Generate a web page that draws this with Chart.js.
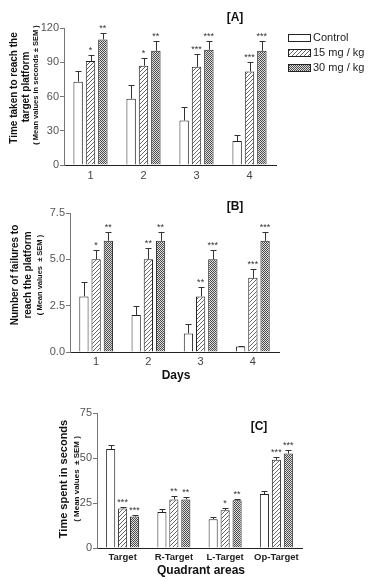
<!DOCTYPE html>
<html>
<head>
<meta charset="utf-8">
<script src="https://cdn.jsdelivr.net/npm/chart.js@4.4.1/dist/chart.umd.min.js"></script>
<style>
  html, body { margin: 0; padding: 0; background: #fff; }
  #wrap { position: relative; width: 375px; height: 581px; }
  canvas { position: absolute; left: 0; top: 0; pointer-events: none; }
</style>
</head>
<body>
<div id="wrap">
  <canvas id="chartA" width="375" height="581"></canvas>
  <canvas id="chartB" width="375" height="581"></canvas>
  <canvas id="chartC" width="375" height="581"></canvas>
</div>
<script>
// [A] time taken to reach the platform (seconds)
const daysA = ["1", "2", "3", "4"];
const controlA = [73, 58, 39, 21];
const controlErrA = [9, 12, 12, 5];
const mg15A = [91, 87, 86, 82];
const mg15ErrA = [5, 7, 11, 8];
const mg30A = [110, 100, 101, 100];
const mg30ErrA = [6, 9, 8, 9];
const stars15A = ["*", "*", "***", "***"];
const stars30A = ["**", "**", "***", "***"];
const ticksA = [0, 30, 60, 90, 120];

// [B] number of failures
const daysB = ["1", "2", "3", "4"];
const controlB = [3.0, 2.0, 1.0, 0.3];
const controlErrB = [0.8, 0.5, 0.5, 0.05];
const mg15B = [5.0, 5.0, 3.0, 4.0];
const mg15ErrB = [0.5, 0.6, 0.5, 0.5];
const mg30B = [6.0, 6.0, 5.0, 6.0];
const mg30ErrB = [0.5, 0.5, 0.5, 0.5];
const stars15B = ["*", "**", "**", "***"];
const stars30B = ["**", "**", "***", "***"];
const ticksB = [0, 2.5, 5, 7.5];

// [C] time spent in quadrants (seconds)
const quadrants = ["Target", "R-Target", "L-Target", "Op-Target"];
const controlC = [55, 20, 16, 30];
const controlErrC = [2.5, 1.5, 1, 1.5];
const mg15C = [22, 27, 21, 49];
const mg15ErrC = [1, 2, 1, 1.5];
const mg30C = [17.5, 27, 26.5, 52.5];
const mg30ErrC = [1, 1.2, 1, 2];
const stars15C = ["***", "**", "*", "***"];
const stars30C = ["***", "**", "**", "***"];
const ticksC = [0, 25, 50, 75];

const groupLabels = ["Control", "15 mg / kg", "30 mg / kg"];

Chart.defaults.font.family = "'Liberation Sans', Arial, sans-serif";
Chart.defaults.color = "#444";

function hatch(ctx) {
  const c = document.createElement("canvas");
  c.width = 4; c.height = 4;
  const g = c.getContext("2d");
  g.fillStyle = "#fff";
  g.fillRect(0, 0, 4, 4);
  g.strokeStyle = "#666";
  g.lineWidth = 1;
  g.beginPath();
  g.moveTo(0, 4); g.lineTo(4, 0);
  g.moveTo(-1, 1); g.lineTo(1, -1);
  g.moveTo(3, 5); g.lineTo(5, 3);
  g.stroke();
  return ctx.createPattern(c, "repeat");
}

function checker(ctx) {
  const c = document.createElement("canvas");
  c.width = 2; c.height = 2;
  const g = c.getContext("2d");
  g.fillStyle = "#e0e0e0";
  g.fillRect(0, 0, 2, 2);
  g.fillStyle = "#4a4a4a";
  g.fillRect(0, 0, 1, 1);
  g.fillRect(1, 1, 1, 1);
  return ctx.createPattern(c, "repeat");
}

// error bars, stars, titles, legend
const extras = {
  id: "extras",
  afterDatasetsDraw(chart) {
    const ctx = chart.ctx;
    const y = chart.scales.y;
    ctx.save();
    ctx.strokeStyle = "#333";
    ctx.fillStyle = "#333";
    ctx.lineWidth = 1;
    ctx.font = "9px 'Liberation Sans', Arial";
    ctx.textAlign = "center";
    chart.data.datasets.forEach(function (ds, i) {
      chart.getDatasetMeta(i).data.forEach(function (bar, j) {
        const top = Math.round(y.getPixelForValue(ds.data[j] + ds.errors[j])) + 0.5;
        const x = Math.round(bar.x) + 0.5;
        ctx.beginPath();
        ctx.moveTo(x, bar.y);
        ctx.lineTo(x, top);
        ctx.moveTo(x - 3, top);
        ctx.lineTo(x + 3, top);
        ctx.stroke();
        if (ds.stars[j]) ctx.fillText(ds.stars[j], bar.x, top - 3);
      });
    });
    ctx.restore();
  },
  afterDraw(chart, args, opts) {
    const ctx = chart.ctx;
    const area = chart.chartArea;
    ctx.save();
    ctx.fillStyle = "#111";
    ctx.textAlign = "center";
    ctx.textBaseline = "middle";
    opts.yTitle.forEach(function (line) {
      ctx.save();
      ctx.translate(line.x, line.y);
      ctx.rotate(-Math.PI / 2);
      ctx.font = line.font;
      ctx.fillText(line.text, 0, 0);
      ctx.restore();
    });
    ctx.font = "bold 12px 'Liberation Sans', Arial";
    ctx.fillText(opts.panel.text, opts.panel.x, opts.panel.y);
    if (opts.xTitle) {
      ctx.font = "bold 12px 'Liberation Sans', Arial";
      ctx.fillText(opts.xTitle.text, opts.xTitle.x, opts.xTitle.y);
    }
    if (opts.legend) {
      const lg = opts.legend;
      ctx.textAlign = "left";
      ctx.font = "11px 'Liberation Sans', Arial";
      chart.data.datasets.forEach(function (ds, i) {
        const yy = lg.y + i * lg.step;
        ctx.fillStyle = ds.backgroundColor;
        ctx.fillRect(lg.x, yy - 3.5, 22, 7);
        ctx.strokeStyle = "#222";
        ctx.strokeRect(lg.x + 0.5, yy - 3.5, 22, 7);
        ctx.fillStyle = "#222";
        ctx.fillText(ds.label, lg.x + 25, yy);
      });
    }
    ctx.restore();
  }
};

function makeChart(id, cats, series, errs, stars, yTicks, box, decorations, xFont, xPad) {
  const canvas = document.getElementById(id);
  const ctx = canvas.getContext("2d");
  const fills = ["#fff", hatch(ctx), checker(ctx)];
  const xH = 20;
  return new Chart(ctx, {
    type: "bar",
    data: {
      labels: cats,
      datasets: series.map(function (vals, i) {
        return {
          label: groupLabels[i],
          data: vals,
          errors: errs[i],
          stars: stars[i],
          backgroundColor: fills[i],
          borderColor: "#222",
          borderWidth: 1,
          categoryPercentage: 0.7,
          barPercentage: 0.76
        };
      })
    },
    options: {
      responsive: false,
      animation: false,
      layout: {
        padding: { left: 0, top: box.top, right: 375 - box.right, bottom: 581 - box.bottom - xH }
      },
      plugins: {
        legend: { display: false },
        tooltip: { enabled: false },
        extras: decorations
      },
      scales: {
        x: {
          afterFit: function (s) { s.height = xH; },
          grid: { display: false, drawTicks: false },
          border: { display: true, color: "#222", width: 1 },
          ticks: { font: xFont, color: xFont.weight ? "#222" : "#444", padding: xPad }
        },
        y: {
          min: yTicks[0],
          max: yTicks[yTicks.length - 1],
          afterFit: function (s) { s.width = box.left; },
          afterBuildTicks: function (s) { s.ticks = yTicks.map(function (v) { return { value: v }; }); },
          grid: { display: true, drawOnChartArea: false, drawTicks: true, tickLength: 4, color: "#777" },
          border: { display: true, color: "#777", width: 1 },
          ticks: {
            font: { size: 11 },
            color: "#555",
            padding: 1,
            callback: function (v) { return yTicks === ticksB ? v.toFixed(1) : v; }
          }
        }
      }
    },
    plugins: [extras]
  });
}

const big = "bold 10px 'Liberation Sans', Arial";
const small = "bold 7.5px 'Liberation Sans', Arial";

makeChart("chartA", daysA,
  [controlA, mg15A, mg30A], [controlErrA, mg15ErrA, mg30ErrA], [[], stars15A, stars30A],
  ticksA, { left: 64, right: 276, top: 28, bottom: 165 },
  {
    yTitle: [
      { text: "Time taken to reach the", x: 14, y: 88, font: big },
      { text: "target platform", x: 26, y: 87, font: big },
      { text: "( Mean values in seconds ± SEM )", x: 36, y: 85, font: small }
    ],
    panel: { text: "[A]", x: 235, y: 18 },
    legend: { x: 288, y: 38, step: 15 }
  },
  { size: 11 }, 4);

makeChart("chartB", daysB,
  [controlB, mg15B, mg30B], [controlErrB, mg15ErrB, mg30ErrB], [[], stars15B, stars30B],
  ticksB, { left: 70, right: 279, top: 213, bottom: 352 },
  {
    yTitle: [
      { text: "Number of failures to", x: 15, y: 275, font: big },
      { text: "reach the platform", x: 28, y: 275, font: big },
      { text: "( Mean values  ± SEM )", x: 40, y: 275, font: small }
    ],
    panel: { text: "[B]", x: 235, y: 207 },
    xTitle: { text: "Days", x: 176, y: 376 }
  },
  { size: 11 }, 3);

makeChart("chartC", quadrants,
  [controlC, mg15C, mg30C], [controlErrC, mg15ErrC, mg30ErrC], [[], stars15C, stars30C],
  ticksC, { left: 97, right: 302, top: 413, bottom: 548 },
  {
    yTitle: [
      { text: "Time spent in seconds", x: 64, y: 479, font: "bold 11px 'Liberation Sans', Arial" },
      { text: "( Mean values  ± SEM )", x: 77, y: 479, font: "bold 8px 'Liberation Sans', Arial" }
    ],
    panel: { text: "[C]", x: 259, y: 427 },
    xTitle: { text: "Quadrant areas", x: 201, y: 571 }
  },
  { size: 9.5, weight: "bold" }, 4);
</script>
</body>
</html>
